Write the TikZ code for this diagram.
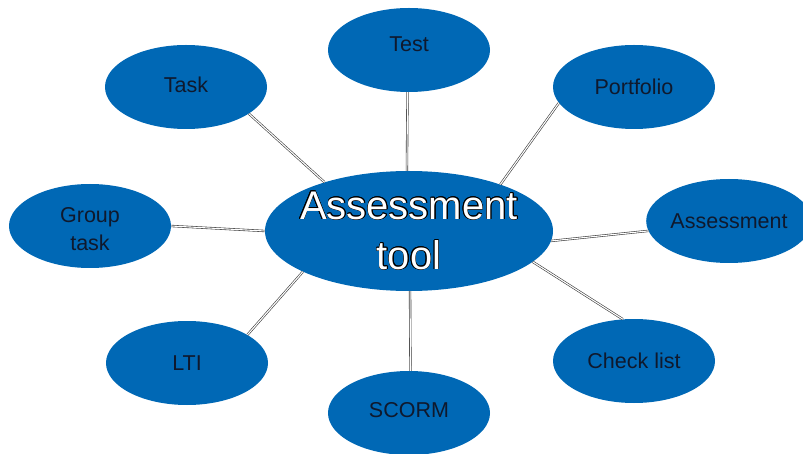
\documentclass[tikz,border=0pt]{standalone}
\usepackage{fontspec}
\setmainfont{Liberation Sans}
\usepackage{contour}
\contourlength{0.5pt}
\usetikzlibrary{shapes.geometric}
\definecolor{bub}{RGB}{0,104,181}
\definecolor{lbl}{RGB}{15,25,45}
\definecolor{wire}{RGB}{60,60,60}
\tikzset{
  bubble/.style={ellipse, fill=bub, draw=none, inner sep=0pt, minimum width=162pt, minimum height=84pt, text=lbl, font=\fontsize{21.5}{28.5}\selectfont, align=center},
  caption/.style={text=lbl, font=\fontsize{21.5}{28.5}\selectfont, align=center},
  hub/.style={ellipse, fill=bub, draw=none, inner xsep=-8pt, inner ysep=-6pt, minimum width=288pt, minimum height=120pt, align=center, font=\fontsize{40}{50}\selectfont},
  wirelink/.style={draw=wire, line width=0.6pt, double=white, double distance=1.1pt}
}
\begin{document}
\begin{tikzpicture}[x=1pt,y=-1pt]
\useasboundingbox (0,0) rectangle (803,454);
\clip (0,0) rectangle (803,454);
\node[hub] (c) at (409,231) {\contour{black}{\textcolor{white}{Assessment}}\\\contour{black}{\textcolor{white}{tool}}};
\node[bubble] (test) at (409,50) {};
\node[caption] (testt) at (409,44) {Test};
\node[bubble] (task) at (186,87) {};
\node[caption] (taskt) at (186,85) {Task};
\node[bubble] (port) at (634,87) {Portfolio};
\node[bubble] (group) at (90,226) {};
\node[caption] (groupt) at (90,229) {Group\\task};
\node[bubble] (assess) at (729,221) {Assessment};
\node[bubble] (lti) at (187,363) {LTI};
\node[bubble] (scorm) at (409,413) {};
\node[caption] (scormt) at (409,410) {SCORM};
\node[bubble] (check) at (634,361) {Check list};
\draw[wirelink] (task.-23) -- (c.150);
\draw[wirelink] (test.-92) -- (c.92);
\draw[wirelink] (port.192) -- (c.27);
\draw[wirelink] (group.east) -- (c.west);
\draw[wirelink] (assess.187) -- (c.-4);
\draw[wirelink] (lti.25) -- (c.201);
\draw[wirelink] (scorm.88) -- (c.-89);
\draw[wirelink] (check.105) -- (c.-14);
\end{tikzpicture}
\end{document}
